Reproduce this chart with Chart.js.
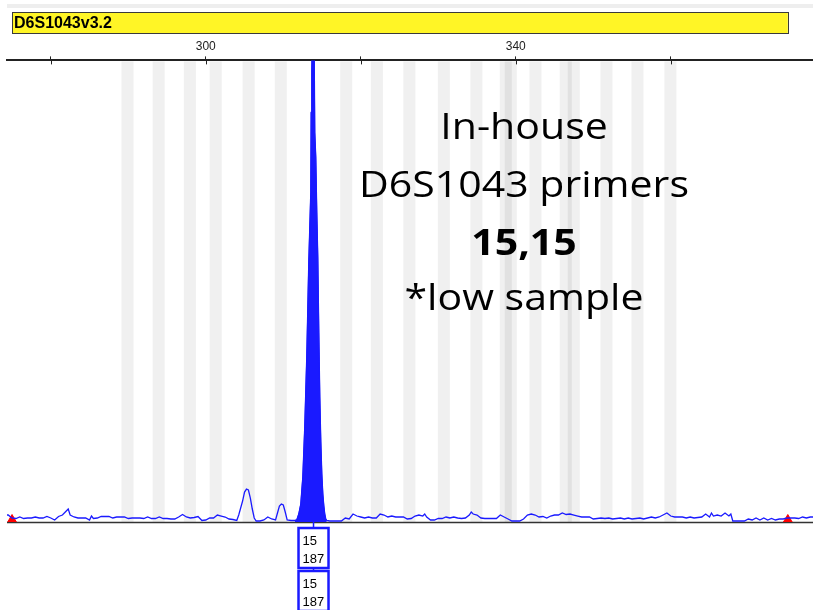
<!DOCTYPE html>
<html>
<head>
<meta charset="utf-8">
<script src="https://cdn.jsdelivr.net/npm/chart.js@4"></script>
<style>
  html, body { margin: 0; padding: 0; background: #fff; }
  canvas { display: block; }
</style>
</head>
<body>
<canvas id="trace" width="813" height="610"></canvas>
<script>
// D6S1043 electropherogram, blue dye, low sample

// size axis (bp) and the heights of the blue trace
let traceSizes = [
    274.35, 274.5, 275, 275.5, 276, 276.5, 277, 277.5, 278, 278.5,
    279, 279.5, 280, 280.5, 281, 281.5, 282, 282.25, 282.5, 283,
    283.5, 284, 284.5, 285, 285.25, 285.5, 286, 286.5, 287, 287.5,
    288, 288.5, 289, 289.5, 290, 290.5, 291, 291.5, 292, 292.5,
    293, 293.5, 294, 294.5, 295, 295.5, 296, 296.5, 297, 297.5,
    298, 298.5, 299, 299.5, 300, 300.5, 301, 301.5, 302, 302.5,
    303, 303.5, 304, 304.25, 304.5, 304.75, 305, 305.25, 305.5, 305.75,
    306, 306.25, 306.5, 307, 307.5, 308, 308.5, 309, 309.25, 309.5,
    309.75, 310, 310.25, 310.5, 311, 311.5, 311.74, 312, 312.26, 312.52,
    312.77, 313.03, 313.29, 313.55, 313.6, 313.68, 313.81, 313.94, 314.06, 314.19,
    314.32, 314.45, 314.58, 314.71, 314.84, 314.97, 315.1, 315.23, 315.35, 315.48,
    315.61, 316, 316.5, 317, 317.5, 318, 318.5, 319, 319.5, 320,
    320.5, 321, 321.5, 322, 322.5, 323, 323.5, 324, 324.5, 325,
    325.5, 326, 326.5, 327, 327.5, 328, 328.25, 328.5, 329, 329.5,
    330, 330.5, 331, 331.5, 332, 332.5, 333, 333.5, 334, 334.25,
    334.5, 335, 335.5, 336, 336.5, 337, 337.5, 338, 338.5, 339,
    339.5, 340, 340.5, 341, 341.5, 342, 342.5, 343, 343.5, 344,
    344.5, 345, 345.5, 346, 346.5, 347, 347.5, 348, 348.5, 349,
    349.5, 350, 350.5, 351, 351.5, 352, 352.5, 353, 353.5, 354,
    354.5, 355, 355.5, 356, 356.5, 357, 357.5, 358, 358.5, 359,
    359.5, 360, 360.5, 361, 361.5, 362, 362.5, 363, 363.5, 364,
    364.5, 365, 365.25, 365.5, 366, 366.5, 367, 367.5, 367.75, 368,
    368.5, 369, 369.5, 370, 370.5, 371, 371.5, 372, 372.5, 373,
    373.5, 374, 374.5, 375, 375.5, 376, 376.5, 377, 377.5, 378,
    378.35
]
let traceHeights = [
    7, 7, 4, 3.5, 5, 3.5, 4, 4, 5, 4,
    4, 5.5, 4, 2, 5.5, 7, 11, 13, 7, 5,
    4, 4, 4, 2, 6, 3.5, 4, 5.5, 5.5, 5.5,
    4, 5, 5, 5, 3.5, 4, 4, 4, 3.5, 5,
    3.5, 3.5, 5, 3.5, 3.5, 3, 3, 5, 7.5, 5,
    4, 4.5, 5.5, 1.5, 2, 4, 4, 7, 6, 5,
    3, 2.5, 1.5, 7, 14, 21, 30, 33, 32, 24,
    13, 4, 1, 1, 2, 5, 3, 2, 9, 16,
    18, 17, 10, 2, 1.5, 1.5, 2, 8, 18, 45,
    95, 165, 260, 330, 410, 450, 520, 520, 390, 365,
    310, 265, 190, 125, 80, 48, 28, 16, 8, 3,
    1.5, 1, 1, 1, 1, 4, 3, 8, 6, 5,
    4, 5, 4, 4, 8, 7, 5, 6, 5, 5,
    5, 3, 3.5, 6, 7, 6, 8, 5, 2, 2,
    3.5, 3.5, 5, 4, 5, 4, 3.5, 4, 7, 10,
    8, 7, 4, 3.5, 3.5, 3.5, 3.5, 7, 5, 3,
    1, 1, 1, 3, 7, 8, 7, 5, 5.5, 4,
    6, 7, 7, 9, 7.5, 8, 7, 6, 5, 5,
    5, 3, 3.5, 4, 3.5, 4, 3, 3.5, 4, 3,
    4, 3, 3.5, 4, 3, 4, 5, 4, 5, 7,
    9, 6, 5, 5, 5, 4, 5, 4, 4.5, 5,
    8, 5, 9, 6, 7, 6, 9, 6, 8, 1,
    1, 1, 1, 3, 2, 4, 2, 4, 2, 3.5,
    2, 3, 3, 4, 4, 4, 3.5, 5, 4, 5,
    5
]

// the called peak (filled) and its labels
let peakFrom = 311.5
let peakTo = 315.61
let peakCall = 313.9
let alleleLabels = ['15', '15']
let sizeLabels = ['187', '187']

// marker (locus) range and name
let markerName = 'D6S1043v3.2'
let markerRange = [275, 375.1]

// allele bins (grey bands), centre in bp
let binCenters = [
    289.9, 293.92, 297.95, 301.28, 305.53, 309.68, 318.12, 322.08, 326.27, 330.72,
    334.92, 338.71, 339.35, 342.54, 346.45, 347.48, 351.7, 355.7, 359.95
]
let binHalfWidth = 0.78

// axis
let axisTicks = [280, 300, 320, 340, 360]
let labelledTicks = [300, 340]

let noteLines = ['In-house', 'D6S1043 primers', '15,15', '*low sample']
let noteBold = [false, false, true, false]

const blue = '#1a1aff'

let points = traceSizes.map((s, i) => ({x: s, y: traceHeights[i]}))
let peakPoints = points.filter(p => p.x >= peakFrom && p.x <= peakTo)

let gmPlugin = {
    id: 'geneMapper',
    beforeDraw(chart) {
        let ctx = chart.ctx
        let area = chart.chartArea
        let x = chart.scales.x
        ctx.save()
        ctx.fillStyle = '#fff'
        ctx.fillRect(0, 0, chart.width, chart.height)
        // thin grey strip at the top of the panel
        ctx.fillStyle = '#eeeeee'
        ctx.fillRect(area.left, 4, area.right - area.left, 4)
        // yellow marker bar
        let x0 = x.getPixelForValue(markerRange[0])
        let x1 = x.getPixelForValue(markerRange[1])
        ctx.fillStyle = '#fff526'
        ctx.fillRect(x0, 12, x1 - x0, 21)
        ctx.strokeStyle = '#3a3a3a'
        ctx.lineWidth = 1
        ctx.strokeRect(Math.round(x0) + 0.5, 12.5, Math.round(x1 - x0), 21)
        ctx.fillStyle = '#000'
        ctx.font = 'bold 16px "Liberation Sans"'
        ctx.textBaseline = 'alphabetic'
        ctx.fillText(markerName, x0 + 2, 28)
        ctx.restore()
    },
    beforeDatasetsDraw(chart) {
        let ctx = chart.ctx
        let area = chart.chartArea
        let x = chart.scales.x
        let y = chart.scales.y
        ctx.save()
        // bins
        ctx.fillStyle = 'rgba(0,0,0,0.06)'
        binCenters.forEach(c => {
            let a = x.getPixelForValue(c - binHalfWidth)
            let b = x.getPixelForValue(c + binHalfWidth)
            ctx.fillRect(a, area.top + 1, b - a, area.bottom - area.top - 1)
        })
        // baseline
        ctx.strokeStyle = '#333'
        ctx.lineWidth = 1.5
        ctx.beginPath()
        ctx.moveTo(area.left, y.getPixelForValue(0) + 0.5)
        ctx.lineTo(area.right, y.getPixelForValue(0) + 0.5)
        ctx.stroke()
        // lower half of the axis tick marks
        ctx.strokeStyle = '#222'
        ctx.lineWidth = 1
        axisTicks.forEach(t => {
            let p = Math.round(x.getPixelForValue(t)) + 0.5
            ctx.beginPath()
            ctx.moveTo(p, area.top)
            ctx.lineTo(p, area.top + 4)
            ctx.stroke()
        })
        ctx.restore()
    },
    afterDraw(chart) {
        let ctx = chart.ctx
        let x = chart.scales.x
        let y = chart.scales.y
        ctx.save()
        // peak label boxes
        let cx = x.getPixelForValue(peakCall)
        let base = y.getPixelForValue(0)
        let boxW = 30, boxH = 40, gap = 3
        let top = base + 6
        ctx.strokeStyle = blue
        ctx.lineWidth = 1.5
        ctx.beginPath()
        ctx.moveTo(cx, base)
        ctx.lineTo(cx, top)
        ctx.stroke()
        alleleLabels.forEach((a, i) => {
            let t = top + i * (boxH + gap)
            if (i > 0) {
                ctx.strokeStyle = blue
                ctx.lineWidth = 1.5
                ctx.beginPath()
                ctx.moveTo(cx, t - gap)
                ctx.lineTo(cx, t)
                ctx.stroke()
            }
            ctx.fillStyle = '#fff'
            ctx.fillRect(cx - boxW / 2, t, boxW, boxH)
            ctx.strokeStyle = blue
            ctx.lineWidth = 2.5
            ctx.strokeRect(cx - boxW / 2, t, boxW, boxH)
            ctx.fillStyle = '#000'
            ctx.font = '13px "Liberation Sans"'
            ctx.textAlign = 'left'
            ctx.textBaseline = 'alphabetic'
            ctx.fillText(a, cx - boxW / 2 + 4, t + 17)
            ctx.fillText(sizeLabels[i], cx - boxW / 2 + 4, t + 35)
        })
        // slide note
        let baselines = [139, 197, 255, 310]
        noteLines.forEach((line, i) => {
            ctx.save()
            ctx.translate(524, baselines[i])
            ctx.scale(1.14, 1)
            ctx.font = (noteBold[i] ? 'bold ' : '') + '36px "Open Sans"'
            ctx.textAlign = 'center'
            ctx.textBaseline = 'alphabetic'
            ctx.fillStyle = '#000'
            ctx.fillText(line, 0, 0)
            ctx.restore()
        })
        ctx.restore()
    }
}

let traceChart = new Chart(document.getElementById('trace').getContext('2d'), {
    type: 'line',
    data: {
        datasets: [
            {
                label: 'called peak',
                data: peakPoints,
                borderColor: blue,
                backgroundColor: blue,
                borderWidth: 1,
                pointRadius: 0,
                fill: 'origin',
                tension: 0
            },
            {
                label: 'blue trace',
                data: points,
                borderColor: blue,
                borderWidth: 1.3,
                pointRadius: 0,
                fill: false,
                tension: 0
            },
            {
                label: 'marker ends',
                data: markerRange.map(v => ({x: v, y: 2.5})),
                showLine: false,
                pointStyle: 'triangle',
                pointRadius: 5,
                pointBackgroundColor: '#ff0000',
                pointBorderColor: '#ff0000',
                pointBorderWidth: 1
            }
        ]
    },
    options: {
        responsive: false,
        animation: false,
        layout: {
            autoPadding: false,
            padding: {left: 7, right: 0, top: 36, bottom: 88}
        },
        plugins: {
            legend: {display: false},
            tooltip: {enabled: false}
        },
        scales: {
            x: {
                type: 'linear',
                position: 'top',
                min: 274.35,
                max: 378.35,
                afterBuildTicks: s => { s.ticks = axisTicks.map(v => ({value: v})) },
                ticks: {
                    autoSkip: false,
                    maxRotation: 0,
                    padding: 3,
                    color: '#222',
                    font: {family: 'Liberation Sans', size: 12},
                    callback: v => labelledTicks.includes(v) ? String(v) : ''
                },
                grid: {
                    drawOnChartArea: false,
                    tickLength: 4,
                    color: '#222'
                },
                border: {color: '#222', width: 2}
            },
            y: {
                display: false,
                min: 0,
                max: 462
            }
        }
    },
    plugins: [gmPlugin]
})
</script>
</body>
</html>
